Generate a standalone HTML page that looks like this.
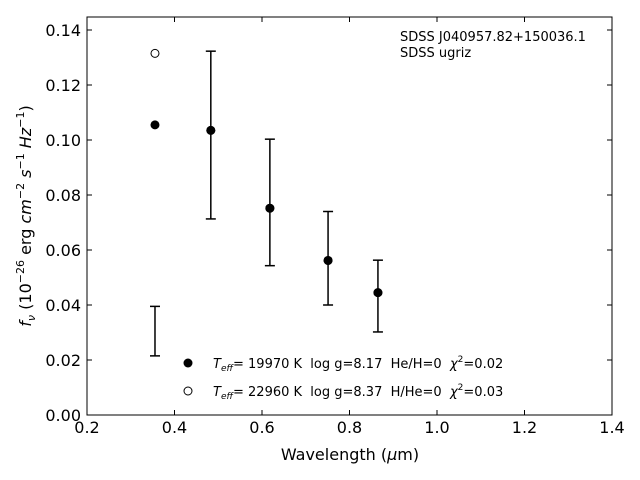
<!DOCTYPE html>
<html><head><meta charset="utf-8"><style>
body{margin:0;background:#fff}
svg{display:block;font-family:"DejaVu Sans","Liberation Sans",sans-serif}
text{white-space:pre}
</style></head><body>
<svg id="c" width="640" height="480" viewBox="0 0 640 480" xml:space="preserve">
<rect x="0" y="0" width="640" height="480" fill="#fff"/>
<g id="marks"></g>
<rect x="87" y="17" width="525" height="398" fill="none" stroke="#000" stroke-width="1"/>
<g id="axes"></g>
<text x="350" y="460" font-size="16" text-anchor="middle">Wavelength (<tspan font-style="italic">μ</tspan>m)</text>
<text transform="translate(31,216) rotate(-90)" font-size="16" text-anchor="middle"><tspan font-style="italic">f</tspan><tspan font-size="11" dy="4" font-style="italic">ν</tspan><tspan dy="-4"> (10</tspan><tspan font-size="11" dy="-7">−26</tspan><tspan dy="7"> erg </tspan><tspan font-style="italic">cm</tspan><tspan font-size="11" dy="-7">−2</tspan><tspan dy="7" font-style="italic"> s</tspan><tspan font-size="11" dy="-7">−1</tspan><tspan dy="7" font-style="italic"> Hz</tspan><tspan font-size="11" dy="-7">−1</tspan><tspan dy="7">)</tspan></text>
<text x="400" y="41" font-size="13">SDSS J040957.82+150036.1</text>
<text x="400" y="57" font-size="13">SDSS ugriz</text>
<g>
<circle cx="188" cy="363" r="4.5" fill="#000"/>
<text x="213" y="368" font-size="13"><tspan font-style="italic">T</tspan><tspan font-size="9" dy="3" font-style="italic">eff</tspan><tspan dy="-3">= 19970 K  log g=8.17  He/H=0  </tspan><tspan font-style="italic">χ</tspan><tspan font-size="9" dy="-6">2</tspan><tspan dy="6">=0.02</tspan></text>
<circle cx="188" cy="391" r="4" fill="#fff" stroke="#000" stroke-width="1"/>
<text x="213" y="396" font-size="13"><tspan font-style="italic">T</tspan><tspan font-size="9" dy="3" font-style="italic">eff</tspan><tspan dy="-3">= 22960 K  log g=8.37  H/He=0  </tspan><tspan font-style="italic">χ</tspan><tspan font-size="9" dy="-6">2</tspan><tspan dy="6">=0.03</tspan></text>
</g>
</svg>
<script>
const wavelengths=[0.3554,0.483,0.618,0.751,0.865];
const errLow=[0.0215,0.0713,0.0543,0.0400,0.0302];
const errHigh=[0.0395,0.1323,0.1003,0.0740,0.0563];
const modelDA=[0.1055,0.1035,0.0752,0.0562,0.0445];
const modelDB=[0.1315,0.1035,0.0752,0.0562,0.0445];
const xTicks=[0.2,0.4,0.6,0.8,1.0,1.2,1.4];
const yTicks=[0,0.02,0.04,0.06,0.08,0.10,0.12,0.14];
const NS="http://www.w3.org/2000/svg";
const X=v=>87+(v-0.2)*437.5;
const Y=v=>415-v*2750;
function mk(t,a,p){const e=document.createElementNS(NS,t);for(const k in a)e.setAttribute(k,a[k]);p.appendChild(e);return e;}
const ax=document.getElementById('axes'),mg=document.getElementById('marks');
xTicks.forEach(v=>{const x=X(v);
 let l=mk('line',{x1:x,x2:x,y1:415,y2:410,stroke:'#000'},ax);
 
 
 let l2=mk('line',{x1:x,x2:x,y1:17,y2:22,stroke:'#000'},ax);
 
 
 let t=mk('text',{x:x,y:433,'font-size':16,'text-anchor':'middle'},ax);t.textContent=v.toFixed(1);
 
 });
yTicks.forEach(v=>{const y=Y(v);
 let l=mk('line',{x1:87,x2:92,y1:y,y2:y,stroke:'#000'},ax);
 
 
 let l2=mk('line',{x1:612,x2:607,y1:y,y2:y,stroke:'#000'},ax);
 
 
 let t=mk('text',{x:81,y:y+6,'font-size':16,'text-anchor':'end'},ax);t.textContent=v.toFixed(2);
 
 });
wavelengths.forEach((w,i)=>{const x=X(w);
 const g=mk('g',{stroke:'#000','stroke-width':1.5},mg);
 
 
 const lo=Y(errLow[i]),hi=Y(errHigh[i]);
 mk('line',{x1:x,x2:x,y1:lo,y2:hi},g);
 mk('line',{x1:x-5,x2:x+5,y1:lo,y2:lo},g);
 mk('line',{x1:x-5,x2:x+5,y1:hi,y2:hi},g);
 let b=mk('circle',{cx:x,cy:Y(modelDB[i]),r:4,fill:'#fff',stroke:'#000'},mg);
 
 
 let a=mk('circle',{cx:x,cy:Y(modelDA[i]),r:4.5,fill:'#000'},mg);
 
 
});
</script>
</body></html>
